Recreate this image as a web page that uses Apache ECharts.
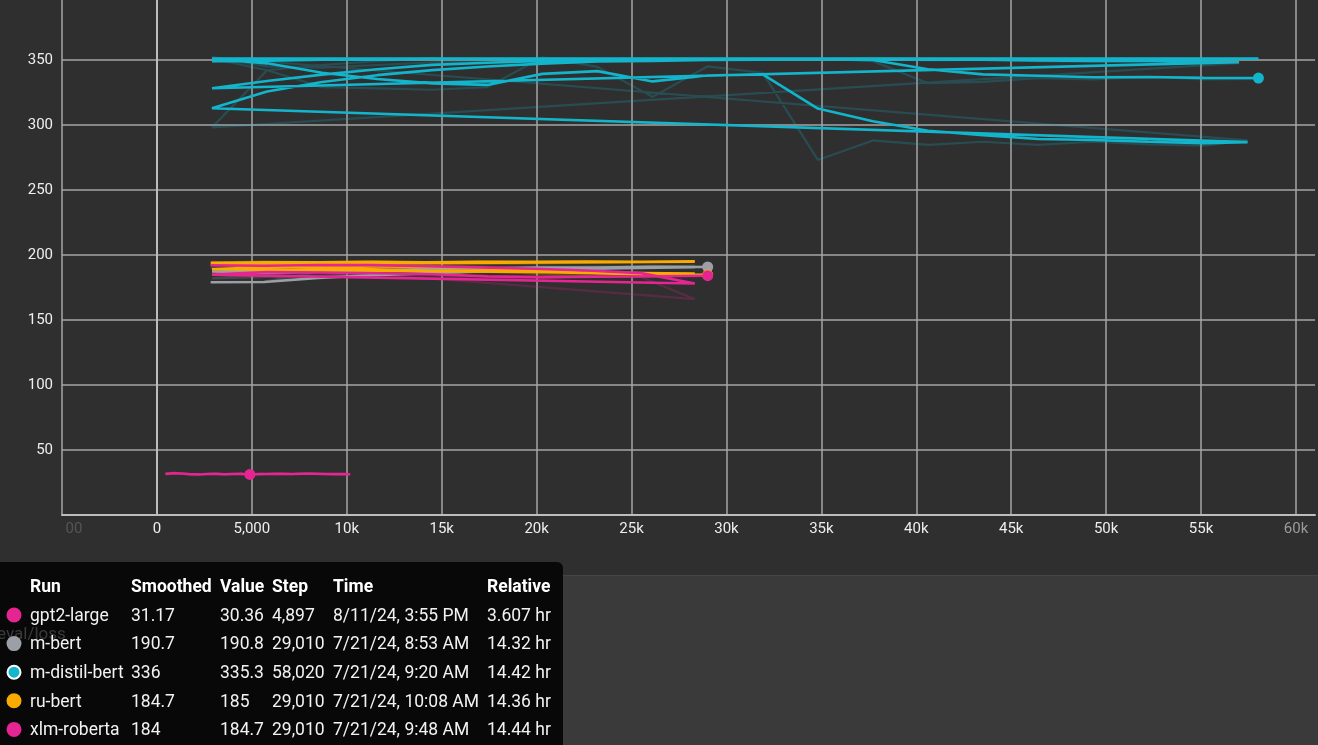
<!DOCTYPE html>
<html>
<head>
<meta charset="utf-8">
<script src="https://cdn.jsdelivr.net/npm/echarts@6/dist/echarts.min.js"></script>
<style>
html,body{margin:0;padding:0;background:#2f2f2f;overflow:hidden}
#chart{width:1318px;height:745px}
</style>
</head>
<body>
<div id="chart"></div>
<script>
// ---------------- data ----------------
const runNames = ['gpt2-large', 'm-bert', 'm-distil-bert', 'ru-bert', 'xlm-roberta'];
const runColors = ['#e52592', '#9aa0a6', '#12b5cb', '#f9ab00', '#e52592'];
const tableHeaders = ['Run', 'Smoothed', 'Value', 'Step', 'Time', 'Relative'];
const hoverSmoothed = [31.17, 190.7, 336, 184.7, 184];
const hoverValue = [30.36, 190.8, 335.3, 185, 184.7];
const hoverStep = [4897, 29010, 58020, 29010, 29010];
const hoverTime = ['8/11/24, 3:55 PM', '7/21/24, 8:53 AM', '7/21/24, 9:20 AM', '7/21/24, 10:08 AM', '7/21/24, 9:48 AM'];
const hoverRelative = ['3.607 hr', '14.32 hr', '14.42 hr', '14.36 hr', '14.44 hr'];
const yTicks = [50, 100, 150, 200, 250, 300, 350];

// gpt2-large
const gptSteps = [447, 892, 1337, 1782, 2227, 2672, 3117, 3562, 4007, 4452, 4897, 5342, 5787, 6232, 6677, 7122, 7567, 8012, 8457, 8902, 9347, 9792, 10180];
const gptRaw = [31.6, 32.8, 31.6, 30.4, 31.0, 32.0, 31.8, 30.8, 31.8, 31.8, 30.36, 31.7, 31.6, 31.8, 31.6, 31.4, 32.0, 31.9, 31.5, 31.2, 31.3, 31.6, 31.0];
const gptSmoothed = [31.6, 32.1, 31.9, 31.3, 31.2, 31.5, 31.6, 31.3, 31.5, 31.6, 31.17, 31.4, 31.5, 31.6, 31.6, 31.5, 31.7, 31.8, 31.7, 31.5, 31.4, 31.5, 31.3];

// m-bert (two passes, in logging order)
const mbertSteps = [2833, 5666, 8499, 11332, 14165, 16998, 19831, 22664, 25497, 28330,
                    2901, 5802, 8703, 11604, 14505, 17406, 20307, 23208, 26109, 29010];
const mbertRaw = [179, 179.5, 187, 187.5, 188, 189.5, 190, 191, 191, 191.5,
                  182, 185, 188, 190, 191, 190, 191, 190.5, 191.5, 190.8];
const mbertSmoothed = [179, 179.2, 182.3, 184.4, 185.8, 187.3, 188.4, 189.4, 190.0, 190.6,
                       187.2, 186.3, 187.0, 188.2, 189.3, 189.6, 190.2, 190.3, 190.8, 190.7];

// m-distil-bert (four passes, in logging order)
const distilSteps = [
  2901, 5802, 8703, 11604, 14505, 17406, 20307, 23208, 26109, 29010, 31911, 34812, 37713, 40614, 43515, 46416, 49317, 52218, 55119, 57000,
  2901, 5802, 8703, 11604, 14505, 17406, 20307, 23208, 26109, 29010, 31911, 34812, 37713, 40614, 43515, 46416, 49317, 52218, 55119, 58020,
  2901, 5802, 8703, 11604, 14505, 17406, 20307, 23208, 26109, 29010, 31911, 34812, 37713, 40614, 43515, 46416, 49317, 52218, 55119, 57450,
  2901, 5802, 8703, 11604, 14505, 17406, 20307, 23208, 26109, 29010, 31911, 34812, 37713, 40614, 43515, 46416, 49317, 52218, 55119, 58020];
const distilRaw = [
  349, 350, 351, 350, 351.5, 350.5, 351, 350, 351, 350.5, 351, 350, 350.5, 349.5, 350, 349, 348.5, 349, 348, 347.5,
  298, 342, 346, 349, 351, 350, 351.5, 350.5, 351, 351, 350.5, 351, 351.5, 351, 350.5, 351, 351, 350.5, 351, 351,
  351, 342, 329, 328, 327, 329, 352, 344.6, 321.5, 345, 340, 273, 288, 284.6, 287, 284.6, 287, 285, 284, 288,
  352, 345, 344, 346, 348, 349, 350.5, 351, 350, 351, 350.5, 351, 349, 332, 333, 336, 335, 337, 335, 335.3];
const distilSmoothed = [
  349, 349.4, 350.0, 350.0, 350.6, 350.6, 350.8, 350.5, 350.7, 350.6, 350.8, 350.5, 350.5, 350.1, 350.1, 349.6, 349.2, 349.1, 348.7, 348.2,
  328.1, 333.7, 338.6, 342.8, 346.1, 347.7, 349.2, 349.7, 350.2, 350.5, 350.5, 350.7, 351.0, 351.0, 350.8, 350.9, 350.9, 350.7, 350.8, 350.9,
  350.9, 347.3, 340.0, 335.2, 331.9, 330.7, 339.2, 341.3, 333.4, 338.0, 338.8, 312.5, 302.7, 295.5, 292.1, 289.1, 288.3, 287.0, 285.8, 286.7,
  312.8, 325.7, 333.0, 338.2, 342.1, 344.9, 347.1, 348.7, 349.2, 349.9, 350.1, 350.5, 349.9, 342.7, 338.8, 337.7, 336.6, 336.8, 336.1, 336.0];

// ru-bert (three passes)
const rubertSteps = [2833, 5666, 8499, 11332, 14165, 16998, 19831, 22664, 25497, 28330,
                     2833, 5666, 8499, 11332, 14165, 16998, 19831, 22664, 25497, 28330,
                     2901, 5802, 8703, 11604, 14505, 17406, 20307, 23208, 26109, 29010];
const rubertRaw = [194, 195, 194.5, 195, 194, 195, 194.5, 195, 194.5, 195,
                   190, 188, 189, 187, 186, 187, 186, 185, 186, 185,
                   194, 193, 192, 191, 190, 188, 185, 183, 183, 185];
const rubertSmoothed = [194, 194.4, 194.4, 194.6, 194.4, 194.6, 194.6, 194.8, 194.7, 194.8,
                        192.9, 190.9, 190.1, 188.9, 187.7, 187.4, 186.8, 186.1, 186.1, 185.7,
                        189.0, 190.6, 191.2, 191.1, 190.7, 189.6, 187.8, 185.9, 184.7, 184.7];

// xlm-roberta (two passes)
const xlmSteps = [2833, 5666, 8499, 11332, 14165, 16998, 19831, 22664, 25497, 28330,
                  2901, 5802, 8703, 11604, 14505, 17406, 20307, 23208, 26109, 29010];
const xlmRaw = [192, 191, 193, 192, 190, 189, 188, 186, 183, 166,
                195, 190, 186, 185, 184, 181, 182, 184, 184, 184.7];
const xlmSmoothed = [192, 191.6, 192.2, 192.1, 191.3, 190.4, 189.4, 188.0, 186.0, 178.0,
                     184.8, 186.9, 186.5, 185.9, 185.1, 183.5, 182.9, 183.3, 183.6, 184];

// ---------------- chart ----------------
const runSteps = [gptSteps, mbertSteps, distilSteps, rubertSteps, xlmSteps];
const runRaw = [gptRaw, mbertRaw, distilRaw, rubertRaw, xlmRaw];
const runSmoothed = [gptSmoothed, mbertSmoothed, distilSmoothed, rubertSmoothed, xlmSmoothed];

function pts(steps, vals) { return steps.map((s, i) => [s, vals[i]]); }

const series = [];
runNames.forEach((name, i) => {
  series.push({
    name: name + ' raw', type: 'line', data: pts(runSteps[i], runRaw[i]),
    showSymbol: false, symbol: 'none', silent: true, z: 2,
    lineStyle: { color: runColors[i], width: 2.2, opacity: 0.22 }
  });
});
runNames.forEach((name, i) => {
  series.push({
    name: name, type: 'line', data: pts(runSteps[i], runSmoothed[i]),
    showSymbol: false, symbol: 'none', silent: true, z: 3,
    lineStyle: { color: runColors[i], width: 2.6 }
  });
});
runNames.forEach((name, i) => {
  series.push({
    name: name + ' hover', type: 'scatter', data: [[hoverStep[i], hoverSmoothed[i]]],
    symbolSize: 11, silent: true, z: 4,
    itemStyle: { color: runColors[i], opacity: 1 }
  });
});

function fmtX(v) {
  if (v % 5000 !== 0) return '';
  if (v === 0) return '0';
  if (Math.abs(v) < 10000) return v.toLocaleString('en-US');
  return (v / 1000) + 'k';
}

// tooltip-like table built from the arrays
const colX = [30, 131, 220, 272, 333, 487];
const headerY = 588;
const rowY0 = 616.5, rowDy = 28.6;
const graphics = [];
graphics.push({ type: 'rect', shape: { x: 0, y: 576, width: 1318, height: 169 }, style: { fill: '#3a3a3a' }, z: 1, silent: true });
graphics.push({ type: 'rect', shape: { x: 0, y: 575, width: 1318, height: 1 }, style: { fill: '#454545' }, z: 1, silent: true });
graphics.push({ type: 'rect', shape: { x: 0, y: 517, width: 65, height: 24 }, style: { fill: '#2f2f2f' }, z: 50, silent: true });
graphics.push({ type: 'rect', shape: { x: -10, y: 562, width: 573, height: 200, r: [0, 6, 0, 0] }, style: { fill: '#080808' }, z: 60, silent: true });
graphics.push({ type: 'text', x: -3, y: 635, style: { text: 'eval/loss', fill: '#3a3a3a', font: '17px Roboto', verticalAlign: 'middle' }, z: 61, silent: true });
tableHeaders.forEach((h, j) => {
  graphics.push({ type: 'text', x: colX[j], y: headerY, style: { text: h, fill: '#ffffff', font: 'bold 17.5px Roboto', verticalAlign: 'middle' }, z: 62, silent: true });
});
runNames.forEach((name, i) => {
  const y = rowY0 + i * rowDy;
  const sel = (name === 'm-distil-bert');
  graphics.push({ type: 'circle', shape: { cx: 14, cy: y - 1.5, r: sel ? 6.5 : 7.5 }, style: { fill: runColors[i], stroke: sel ? '#ffffff' : null, lineWidth: sel ? 2 : 0 }, z: 62, silent: true });
  const cells = [name, String(hoverSmoothed[i]), String(hoverValue[i]), hoverStep[i].toLocaleString('en-US'), hoverTime[i], hoverRelative[i]];
  cells.forEach((c, j) => {
    graphics.push({ type: 'text', x: colX[j], y: y, style: { text: c, fill: '#f2f2f2', font: '17.5px Roboto', verticalAlign: 'middle' }, z: 62, silent: true });
  });
});

const chart = echarts.init(document.getElementById('chart'), null, { renderer: 'canvas' });
chart.setOption({
  backgroundColor: '#2f2f2f',
  animation: false,
  grid: { left: 62, right: 0, top: 0, bottom: 230, containLabel: false },
  xAxis: {
    type: 'value', min: -5000, max: 61000, interval: 5000,
    axisLine: { show: true, lineStyle: { color: '#bdbdbd', width: 2 } },
    axisTick: { show: false },
    splitLine: { show: true, showMaxLine: false, lineStyle: { color: '#a6a6a6', width: 1.5 } },
    axisLabel: {
      fontFamily: 'Roboto', fontSize: 15, margin: 7,
      formatter: fmtX,
      color: function (v) { return v < 0 ? '#555555' : (v >= 60000 ? '#9a9a9a' : '#eeeeee'); }
    }
  },
  yAxis: {
    type: 'value', min: 0, max: 396, interval: 50,
    axisLine: { show: true, lineStyle: { color: '#bdbdbd', width: 2 } },
    axisTick: { show: false },
    splitLine: { show: true, showMaxLine: false, showMinLine: false, lineStyle: { color: '#a6a6a6', width: 1.5 } },
    axisLabel: {
      fontFamily: 'Roboto', fontSize: 15, margin: 9, color: '#eeeeee',
      formatter: function (v) { return yTicks.indexOf(v) >= 0 ? String(v) : ''; }
    }
  },
  series: series,
  graphic: graphics
});
</script>
</body>
</html>
